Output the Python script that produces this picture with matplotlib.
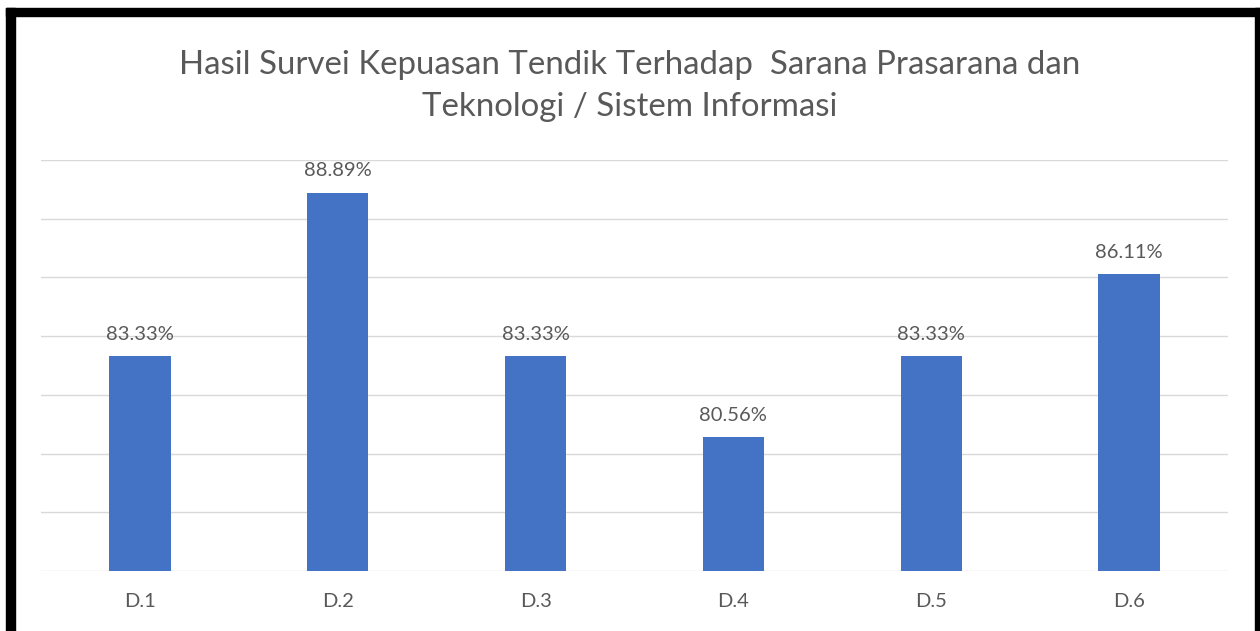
import matplotlib
matplotlib.use("Agg")
import matplotlib.pyplot as plt
from matplotlib.patches import Rectangle

# data
kategori = ["D.1", "D.2", "D.3", "D.4", "D.5", "D.6"]
nilai = [83.33, 88.89, 83.33, 80.56, 83.33, 86.11]
label_nilai = ["83.33%", "88.89%", "83.33%", "80.56%", "83.33%", "86.11%"]
judul_1 = "Hasil Survei Kepuasan Tendik Terhadap  Sarana Prasarana dan"
judul_2 = "Teknologi / Sistem Informasi"

W, H = 1260, 631
plt.rcParams["font.family"] = ["Lato", "DejaVu Sans"]
abu = "#595959"

fig = plt.figure(figsize=(W / 100, H / 100), dpi=100)
ax = fig.add_axes([41 / W, 1 - 571 / H, (1228 - 41) / W, (571 - 160) / H])

ax.bar(range(len(kategori)), nilai, width=0.31, color="#4472C4", zorder=3)
ax.set_ylim(76, 90)
ax.set_xlim(-0.5, len(kategori) - 0.5)
ax.set_yticks(range(76, 91, 2))
ax.set_yticklabels([])
ax.grid(axis="y", color="#d9d9d9", linewidth=1.0, zorder=0)
ax.set_xticks(range(len(kategori)))
ax.set_xticklabels(kategori, color=abu, fontsize=14.5)
ax.tick_params(length=0, pad=16)
for s in ax.spines.values():
    s.set_visible(False)

for i, (v, t) in enumerate(zip(nilai, label_nilai)):
    ax.text(i, v + 0.45, t, ha="center", va="bottom", fontsize=14.5, color=abu)

fig.text(0.5, 1 - 65 / H, judul_1, ha="center", va="center", fontsize=23.8, color=abu)
fig.text(0.5, 1 - 107 / H, judul_2, ha="center", va="center", fontsize=23.8, color=abu)

# bingkai hitam
fig.patches.append(Rectangle((6 / W, 0), 9 / W, 1 - 8 / H, transform=fig.transFigure,
                             color="black", zorder=10))
fig.patches.append(Rectangle((6 / W, 1 - 16 / H), 1 - 6 / W, 8 / H, transform=fig.transFigure,
                             color="black", zorder=10))
fig.patches.append(Rectangle((1255 / W, 0), 5 / W, 1 - 8 / H, transform=fig.transFigure,
                             color="black", zorder=10))

fig.savefig("out.png", dpi=100)
